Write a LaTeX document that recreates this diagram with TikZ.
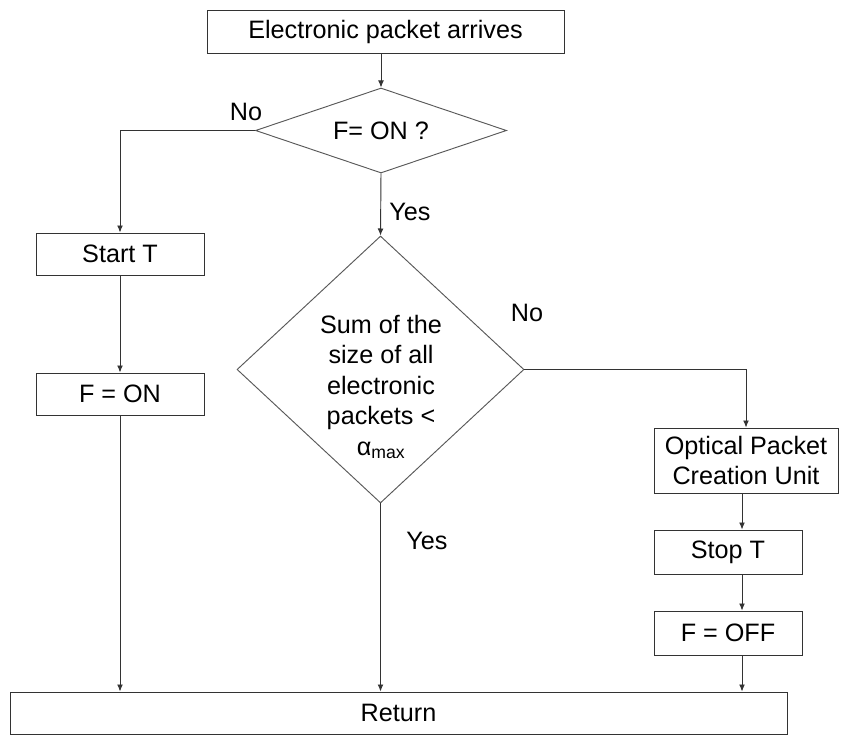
\documentclass[tikz,border=0pt]{standalone}
\usepackage{fontspec}
\setmainfont{Liberation Sans}
\usepackage{tikz}
\usetikzlibrary{positioning}
\usetikzlibrary{arrows,arrows.meta,shapes}
\usetikzlibrary{calc}
\tikzstyle{stepbox}=[rectangle,draw=black!80,fill=white,inner sep=0pt,align=center,font=\fontsize{21.5}{26}\selectfont]
\tikzstyle{decision}=[diamond,draw=black!65,fill=white,inner sep=0pt,align=center,font=\fontsize{21.5}{26}\selectfont]
\tikzstyle{edge} = [draw,black!80,-{Latex[length=6pt,width=5pt]}]
\tikzstyle{answer} = [font=\fontsize{21.5}{26}\selectfont,align=center]

\begin{document}
\begin{tikzpicture}[x=0.03cm,y=-0.03cm,line width=0.8pt]

\useasboundingbox (0,0) rectangle (841,735);

 \def\u{0.03cm};

 %boxes
 \foreach \x/\y/\w/\h/\name/\label in {385.5/31.5/357/43/arrive/{Electronic packet arrives},
      120/254/168/42/startt/{Start T}, 120/394/168/42/fonset/{F = ON},
      746/460.5/184/65/optical/{Optical Packet\\Creation Unit},
      728/552/148/44/stopt/{Stop T}, 728/633/148/44/foff/{F = OFF},
      398.5/713/777/42/ret/{Return}}
          \node[stepbox,minimum width=\w*\u,minimum height=\h*\u] (\name) at (\x,\y) {\label};

 %tests
 \node[decision,aspect=3,minimum width=251*\u,minimum height=85*\u] (check) at (381,130.5) {F= ON ?};
 \node[decision,minimum width=287*\u,minimum height=267*\u] (sizetest) at (380.5,369.5) {};
 \node[answer] (sizetext) at (381,387)
      {Sum of the\\size of all\\electronic\\packets <\\α\textsubscript{max}};

 \foreach \x/\y/\name/\label in {246/112/no1/No, 410/212/yes1/Yes, 527/313/no2/No, 427/541/yes2/Yes}
          \node[answer] (\name) at (\x,\y) {\label};

 \coordinate (rcol) at (742,0);

 \path[edge] (arrive.south -| check.north) -- (check.north);
 \path[edge] (check.west) -| (startt.north);
 \path[edge] (startt) -- (fonset);
 \path[edge] (check.south) -- (sizetest.north);
 \path[edge] (sizetest.east) -| (optical.north);

 \foreach \source/ \dest in {optical/stopt, stopt/foff, foff/ret}
         \path[edge] (\source.south -| rcol) -- (\dest.north -| rcol);

 \foreach \source in {fonset, sizetest}
         \path[edge] (\source.south) -- (\source.south |- ret.north);

\end{tikzpicture}
\end{document}
